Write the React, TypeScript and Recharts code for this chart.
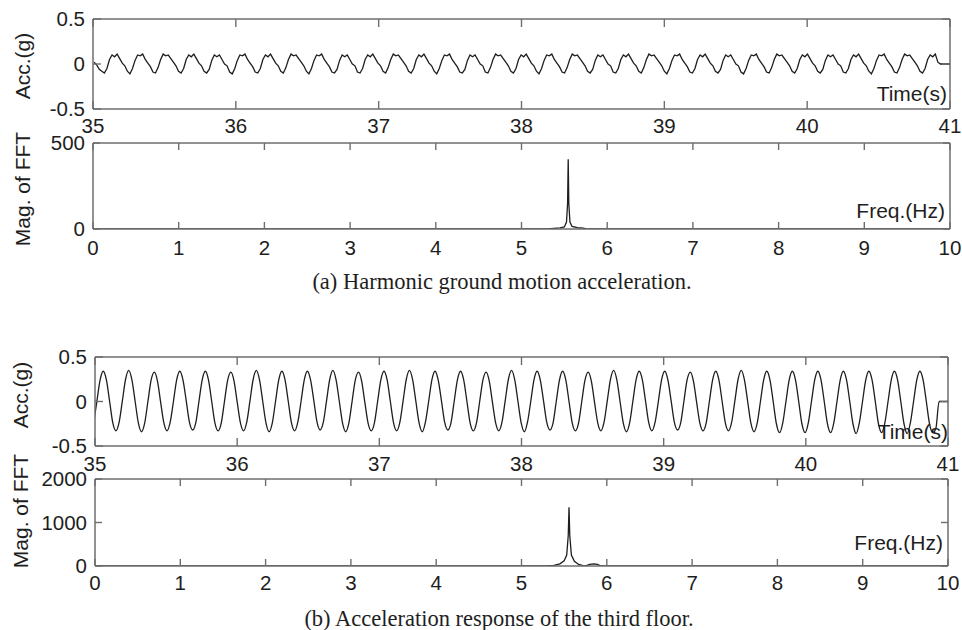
import React from "react";
import { LineChart, Line, XAxis, YAxis, ReferenceLine } from "recharts";

const W = 962;
const H = 630;
const SANS = "'Liberation Sans', Arial, sans-serif";
const SERIF = "'Liberation Serif', 'Times New Roman', serif";

// ticks
const timeTicks = [35, 36, 37, 38, 39, 40, 41];
const freqTicks = [0, 1, 2, 3, 4, 5, 6, 7, 8, 9, 10];
const accTicks = [-0.5, 0, 0.5];
const magTicksA = [0, 500];
const magTicksB = [0, 1000, 2000];

// (a) ground acceleration, sampled every 0.0179 s from 35.008 s
const groundStart = 35.008;
const groundStep = 0.0179;
const groundAcc = [
  0.02, -0.01, -0.06, -0.08,
  -0.10, -0.05, 0.05, 0.10, 0.08, 0.11, 0.06, 0.01, -0.02, -0.08,
  -0.11, -0.05, 0.04, 0.10, 0.09, 0.11, 0.05, 0.01, -0.03, -0.09,
  -0.10, -0.04, 0.05, 0.11, 0.09, 0.10, 0.06, 0.02, -0.02, -0.08,
  -0.10, -0.05, 0.05, 0.10, 0.08, 0.11, 0.06, 0.01, -0.02, -0.08,
  -0.10, -0.06, 0.04, 0.10, 0.08, 0.10, 0.05, 0.00, -0.02, -0.09,
  -0.11, -0.05, 0.04, 0.10, 0.09, 0.11, 0.05, 0.01, -0.03, -0.09,
  -0.10, -0.05, 0.05, 0.10, 0.08, 0.11, 0.06, 0.01, -0.02, -0.08,
  -0.10, -0.04, 0.05, 0.11, 0.09, 0.10, 0.06, 0.02, -0.02, -0.08,
  -0.11, -0.05, 0.04, 0.10, 0.09, 0.11, 0.05, 0.01, -0.03, -0.09,
  -0.10, -0.06, 0.04, 0.10, 0.08, 0.10, 0.05, 0.00, -0.02, -0.09,
  -0.10, -0.05, 0.05, 0.10, 0.08, 0.11, 0.06, 0.01, -0.02, -0.08,
  -0.10, -0.04, 0.05, 0.11, 0.09, 0.10, 0.06, 0.02, -0.02, -0.08,
  -0.10, -0.05, 0.05, 0.10, 0.08, 0.11, 0.06, 0.01, -0.02, -0.08,
  -0.11, -0.05, 0.04, 0.10, 0.09, 0.11, 0.05, 0.01, -0.03, -0.09,
  -0.10, -0.06, 0.04, 0.10, 0.08, 0.10, 0.05, 0.00, -0.02, -0.09,
  -0.10, -0.04, 0.05, 0.11, 0.09, 0.10, 0.06, 0.02, -0.02, -0.08,
  -0.10, -0.05, 0.05, 0.10, 0.08, 0.11, 0.06, 0.01, -0.02, -0.08,
  -0.11, -0.05, 0.04, 0.10, 0.09, 0.11, 0.05, 0.01, -0.03, -0.09,
  -0.10, -0.04, 0.05, 0.11, 0.09, 0.10, 0.06, 0.02, -0.02, -0.08,
  -0.10, -0.06, 0.04, 0.10, 0.08, 0.10, 0.05, 0.00, -0.02, -0.09,
  -0.10, -0.05, 0.05, 0.10, 0.08, 0.11, 0.06, 0.01, -0.02, -0.08,
  -0.10, -0.04, 0.05, 0.11, 0.09, 0.10, 0.06, 0.02, -0.02, -0.08,
  -0.11, -0.05, 0.04, 0.10, 0.09, 0.11, 0.05, 0.01, -0.03, -0.09,
  -0.10, -0.05, 0.05, 0.10, 0.08, 0.11, 0.06, 0.01, -0.02, -0.08,
  -0.10, -0.06, 0.04, 0.10, 0.08, 0.10, 0.05, 0.00, -0.02, -0.09,
  -0.11, -0.05, 0.04, 0.10, 0.09, 0.11, 0.05, 0.01, -0.03, -0.09,
  -0.10, -0.04, 0.05, 0.11, 0.09, 0.10, 0.06, 0.02, -0.02, -0.08,
  -0.10, -0.05, 0.05, 0.10, 0.08, 0.11, 0.06, 0.01, -0.02, -0.08,
  -0.10, -0.06, 0.04, 0.10, 0.08, 0.10, 0.05, 0.00, -0.02, -0.09,
  -0.10, -0.05, 0.05, 0.10, 0.08, 0.11, 0.06, 0.01, -0.02, -0.08,
  -0.11, -0.05, 0.04, 0.10, 0.09, 0.11, 0.05, 0.01, -0.03, -0.09,
  -0.10, -0.04, 0.05, 0.11, 0.09, 0.10, 0.06, 0.02, -0.02, -0.08,
  -0.10, -0.05, 0.05, 0.10, 0.08, 0.11,
  0.02, 0, 0, 0, 0, 0,
];

// (b) third floor acceleration, sampled every 0.02244 s from 34.9907 s
const floorStart = 34.9907;
const floorStep = 0.02244;
const floorAcc = [
  -0.24, 0.00, 0.24, 0.34, 0.24, 0.00, -0.24, -0.33,
  -0.23, 0.01, 0.25, 0.35, 0.24, 0.00, -0.24, -0.34,
  -0.24, 0.00, 0.24, 0.33, 0.23, -0.01, -0.24, -0.33,
  -0.23, 0.00, 0.24, 0.34, 0.24, 0.01, -0.23, -0.32,
  -0.24, 0.00, 0.24, 0.34, 0.24, 0.00, -0.24, -0.33,
  -0.24, 0.00, 0.24, 0.33, 0.23, -0.01, -0.24, -0.33,
  -0.23, 0.01, 0.25, 0.35, 0.24, 0.00, -0.24, -0.34,
  -0.24, 0.00, 0.24, 0.34, 0.24, 0.00, -0.24, -0.33,
  -0.23, 0.00, 0.24, 0.34, 0.24, 0.01, -0.23, -0.32,
  -0.23, 0.01, 0.25, 0.35, 0.24, 0.00, -0.24, -0.34,
  -0.24, 0.00, 0.24, 0.33, 0.23, -0.01, -0.24, -0.33,
  -0.24, 0.00, 0.24, 0.34, 0.24, 0.00, -0.24, -0.33,
  -0.23, 0.01, 0.25, 0.35, 0.24, 0.00, -0.24, -0.34,
  -0.23, 0.00, 0.24, 0.34, 0.24, 0.01, -0.23, -0.32,
  -0.24, 0.00, 0.24, 0.34, 0.24, 0.00, -0.24, -0.33,
  -0.24, 0.00, 0.24, 0.33, 0.23, -0.01, -0.24, -0.33,
  -0.23, 0.01, 0.25, 0.35, 0.24, 0.00, -0.24, -0.34,
  -0.23, 0.00, 0.24, 0.34, 0.24, 0.01, -0.23, -0.32,
  -0.24, 0.00, 0.24, 0.34, 0.24, 0.00, -0.24, -0.33,
  -0.24, 0.00, 0.24, 0.33, 0.23, -0.01, -0.24, -0.33,
  -0.23, 0.01, 0.25, 0.35, 0.24, 0.00, -0.24, -0.34,
  -0.24, 0.00, 0.24, 0.34, 0.24, 0.00, -0.24, -0.33,
  -0.23, 0.00, 0.24, 0.34, 0.24, 0.01, -0.23, -0.32,
  -0.24, 0.00, 0.24, 0.33, 0.23, -0.01, -0.24, -0.33,
  -0.24, 0.00, 0.24, 0.34, 0.24, 0.00, -0.24, -0.33,
  -0.23, 0.01, 0.25, 0.35, 0.24, 0.00, -0.24, -0.34,
  -0.24, 0.00, 0.24, 0.34, 0.24, 0.00, -0.25, -0.35,
  -0.24, 0.00, 0.24, 0.34, 0.24, 0.00, -0.25, -0.35,
  -0.24, 0.00, 0.24, 0.34, 0.24, 0.00, -0.25, -0.35,
  -0.24, 0.00, 0.24, 0.34, 0.24, 0.00, -0.25, -0.36,
  -0.24, 0.00, 0.24, 0.34, 0.24, 0.00, -0.25, -0.35,
  -0.24, 0.00, 0.24, 0.34, 0.24, 0.00, -0.25, -0.36,
  -0.24, 0.00, 0.24, 0.34, 0.24, 0.00, -0.25, -0.35,
  -0.30, 0, 0, 0, 0,
];

// FFT magnitudes
const fftFreqA = [0, 5.3, 5.38, 5.45, 5.5, 5.525, 5.538, 5.545, 5.552, 5.565, 5.59, 5.65, 5.72, 5.76, 10];
const fftMagA = [0, 0, 4, 7, 12, 40, 150, 405, 150, 40, 15, 8, 5, 0, 0];
const fftFreqB = [0, 5.3, 5.38, 5.45, 5.5, 5.53, 5.548, 5.557, 5.566, 5.585, 5.62, 5.67, 5.72, 5.76, 5.8, 5.85, 5.89, 5.93, 10];
const fftMagB = [0, 0, 12, 50, 120, 250, 700, 1350, 700, 250, 110, 35, 10, 8, 35, 50, 35, 0, 0];

type Pt = { x: number; y: number };
const sampled = (start: number, step: number, values: number[]): Pt[] =>
  values.map((v, i) => ({ x: +(start + i * step).toFixed(4), y: v }));
const paired = (xs: number[], ys: number[]): Pt[] => xs.map((x, i) => ({ x, y: ys[i] }));

type Box = { left: number; right: number; top: number; bottom: number };

const AXIS = "#6e6e6e";
const INK = "#1e1e1e";
const TICK_FONT = 20.5;

// MATLAB-style ticks: short marks pointing into the box on both sides, labels outside
const bottomTick = (len: number, gap: number, top: number) => (p: any) => (
  <g>
    <line x1={p.x} x2={p.x} y1={p.y - gap} y2={p.y - gap - len} stroke={AXIS} strokeWidth={1.4} />
    <line x1={p.x} x2={p.x} y1={top} y2={top + len} stroke={AXIS} strokeWidth={1.4} />
    <text x={p.x} y={p.y} dy="0.72em" textAnchor="middle" fontFamily={SANS} fontSize={TICK_FONT} fill={INK}>
      {p.payload.value}
    </text>
  </g>
);
const leftTick = (len: number, gap: number, right: number) => (p: any) => (
  <g>
    <line x1={p.x + gap} x2={p.x + gap + len} y1={p.y} y2={p.y} stroke={AXIS} strokeWidth={1.4} />
    <line x1={right} x2={right - len} y1={p.y} y2={p.y} stroke={AXIS} strokeWidth={1.4} />
    <text x={p.x} y={p.y} dy="0.36em" textAnchor="end" fontFamily={SANS} fontSize={TICK_FONT} fill={INK}>
      {p.payload.value}
    </text>
  </g>
);

function Panel(props: {
  box: Box;
  data: Pt[];
  xDomain: [number, number];
  xTicks: number[];
  yDomain: [number, number];
  yTicks: number[];
  curve: "linear" | "monotone";
  tickLen: number;
  xGap: number;
}) {
  const { box, data, xDomain, xTicks, yDomain, yTicks, curve, tickLen, xGap } = props;
  const line = { stroke: AXIS, strokeWidth: 1.5 };
  return (
    <div style={{ position: "absolute", left: 0, top: 0 }}>
      <LineChart
        width={W}
        height={H}
        data={data}
        margin={{ left: box.left - 60, right: W - box.right, top: box.top, bottom: H - box.bottom - 30 }}
      >
        <XAxis
          dataKey="x"
          type="number"
          domain={xDomain}
          ticks={xTicks}
          interval={0}
          allowDataOverflow
          height={30}
          tickSize={0}
          tickMargin={xGap}
          tick={bottomTick(tickLen, xGap, box.top)}
          axisLine={line}
          tickLine={false}
        />
        <YAxis
          type="number"
          domain={yDomain}
          ticks={yTicks}
          interval={0}
          allowDataOverflow
          width={60}
          tickSize={0}
          tickMargin={8}
          tick={leftTick(tickLen, 8, box.right)}
          axisLine={line}
          tickLine={false}
        />
        <ReferenceLine y={yDomain[1]} stroke={AXIS} strokeWidth={1.5} />
        <ReferenceLine x={xDomain[1]} stroke={AXIS} strokeWidth={1.5} />
        <Line dataKey="y" type={curve} stroke={INK} strokeWidth={1.3} dot={false} isAnimationActive={false} />
      </LineChart>
    </div>
  );
}

export default function App() {
  const txt = { fontFamily: SANS, fontSize: 21, fill: INK };
  const cap = { fontFamily: SERIF, fontSize: 22.5, fill: INK };
  return (
    <div style={{ position: "absolute", left: 0, top: 0, width: W, height: H, background: "#fff" }}>
      <Panel
        box={{ left: 93, right: 950, top: 19, bottom: 109 }}
        data={sampled(groundStart, groundStep, groundAcc)}
        xDomain={[35, 41]}
        xTicks={timeTicks}
        yDomain={[-0.5, 0.5]}
        yTicks={accTicks}
        curve="linear"
        tickLen={8}
        xGap={9}
      />
      <Panel
        box={{ left: 93, right: 950, top: 143, bottom: 229 }}
        data={paired(fftFreqA, fftMagA)}
        xDomain={[0, 10]}
        xTicks={freqTicks}
        yDomain={[0, 500]}
        yTicks={magTicksA}
        curve="linear"
        tickLen={7}
        xGap={11}
      />
      <Panel
        box={{ left: 95, right: 948, top: 357, bottom: 446 }}
        data={sampled(floorStart, floorStep, floorAcc)}
        xDomain={[35, 41]}
        xTicks={timeTicks}
        yDomain={[-0.5, 0.5]}
        yTicks={accTicks}
        curve="monotone"
        tickLen={8}
        xGap={10}
      />
      <Panel
        box={{ left: 95, right: 948, top: 479, bottom: 566 }}
        data={paired(fftFreqB, fftMagB)}
        xDomain={[0, 10]}
        xTicks={freqTicks}
        yDomain={[0, 2000]}
        yTicks={magTicksB}
        curve="linear"
        tickLen={7}
        xGap={9}
      />
      <svg width={W} height={H} style={{ position: "absolute", left: 0, top: 0, pointerEvents: "none" }}>
        <text transform="translate(30,66) rotate(-90)" textAnchor="middle" {...txt}>Acc.(g)</text>
        <text transform="translate(30,189) rotate(-90)" textAnchor="middle" {...txt}>Mag. of FFT</text>
        <text transform="translate(28,395) rotate(-90)" textAnchor="middle" {...txt}>Acc.(g)</text>
        <text transform="translate(28,511) rotate(-90)" textAnchor="middle" {...txt}>Mag. of FFT</text>
        <text x={947} y={101} textAnchor="end" {...txt}>Time(s)</text>
        <text x={945} y={218} textAnchor="end" {...txt}>Freq.(Hz)</text>
        <text x={948} y={439} textAnchor="end" {...txt}>Time(s)</text>
        <text x={943} y={550} textAnchor="end" {...txt}>Freq.(Hz)</text>
        <text x={502} y={289} textAnchor="middle" {...cap}>(a) Harmonic ground motion acceleration.</text>
        <text x={499} y={626} textAnchor="middle" {...cap}>(b) Acceleration response of the third floor.</text>
      </svg>
    </div>
  );
}
